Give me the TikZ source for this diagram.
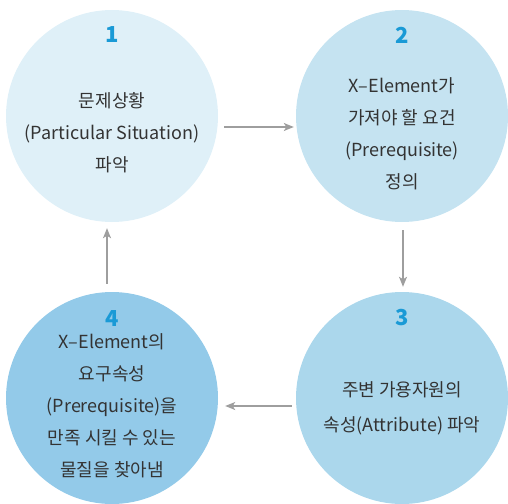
\documentclass[tikz,border=0pt]{standalone}
\usepackage{fontspec}
\setmainfont{Noto Sans CJK KR}
\usetikzlibrary{arrows.meta}
\definecolor{stepA}{HTML}{DFF0F8}
\definecolor{stepB}{HTML}{C5E3F1}
\definecolor{stepC}{HTML}{ABD7EC}
\definecolor{stepD}{HTML}{93CAE9}
\definecolor{numblue}{HTML}{1A9AD6}
\definecolor{txtgray}{HTML}{333333}
\definecolor{arrgray}{HTML}{9E9E9E}
\tikzset{
  stage/.style={circle, minimum size=212pt, inner sep=0pt, draw=none},
  stepnum/.style={text=numblue, font=\fontsize{22}{24}\selectfont\bfseries},
  steptext/.style={text=txtgray, align=center, inner sep=0pt,
    font=\fontsize{18}{32}\selectfont},
  flow/.style={draw=arrgray, line width=1.2pt,
    -{Stealth[length=10pt,width=8pt,inset=2.5pt]}}
}
\begin{document}
\begin{tikzpicture}[x=1pt,y=-1pt]
\useasboundingbox (0,0) rectangle (508,503);

% the four stages of the cycle
\node[stage, fill=stepA] (c1) at (112,116) {};
\node[stage, fill=stepB] (c2) at (402,116) {};
\node[stage, fill=stepC] (c3) at (402,398) {};
\node[stage, fill=stepD] (c4) at (112,398) {};

% step numbers
\node[stepnum] (n1) at (112,35) {1};
\node[stepnum] (n2) at (402,35) {2};
\node[stepnum] (n3) at (402,318) {3};
\node[stepnum] (n4) at (112,319) {4};

% stage descriptions
\node[steptext] (t1) at (112,133) {문제상황\\(Particular Situation)\\파악};
\node[steptext] (t2) at (402,134) {X\textendash Element가\\가져야 할 요건\\(Prerequisite)\\정의};
\node[steptext, font=\fontsize{18}{35}\selectfont] (t3) at (402,408)
  {주변 가용자원의\\속성(Attribute) 파악};
\node[steptext] (t4) at (112,406) {X\textendash Element의\\요구속성\\(Prerequisite)을\\만족 시킬 수 있는\\물질을 찾아냄};

% arrows between stages
\draw[flow, shorten <=6pt, shorten >=2pt] ([yshift=-11pt]c1.east) -- ([yshift=-11pt]c2.west);
\draw[flow, shorten <=8pt, shorten >=5pt] ([xshift=1pt]c2.south) -- ([xshift=1pt]c3.north);
\draw[flow, shorten <=4pt, shorten >=7pt] ([yshift=-8pt]c3.west) -- ([yshift=-8pt]c4.east);
\draw[flow, shorten <=8pt, shorten >=6pt] ([xshift=-5pt]c4.north) -- ([xshift=-5pt]c1.south);
\end{tikzpicture}
\end{document}
